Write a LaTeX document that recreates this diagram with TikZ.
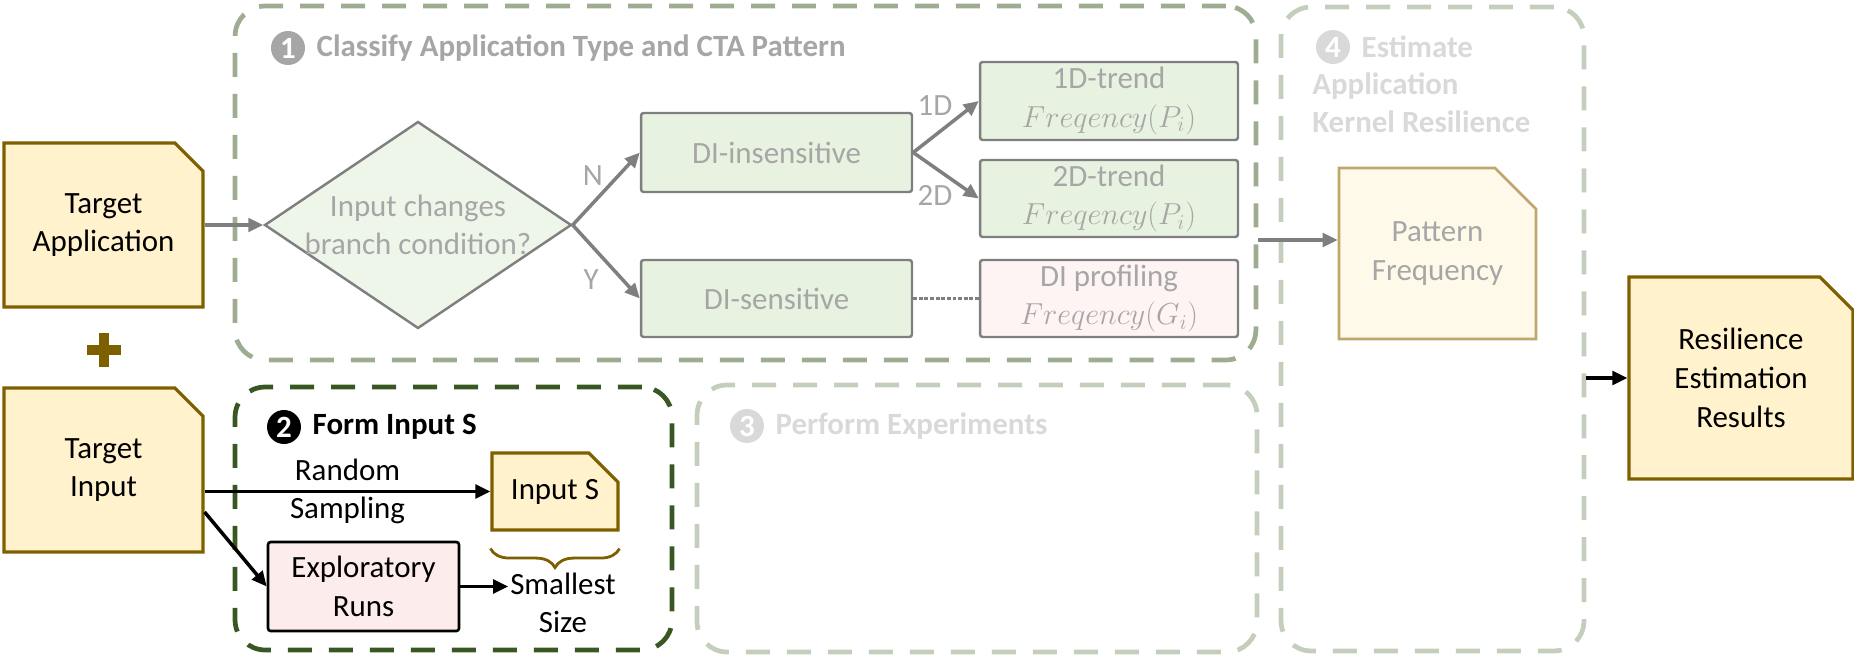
\documentclass[tikz,border=0pt]{standalone}
\usepackage{fontspec}
\setmainfont{Carlito}
\usepackage{xcolor}
\usepackage{tikz}
\usetikzlibrary{arrows.meta,positioning,shapes.geometric,shapes.misc,decorations.pathreplacing}
\definecolor{docfill}{RGB}{255,242,204}
\definecolor{docline}{RGB}{127,96,0}
\definecolor{fadedocfill}{RGB}{255,249,234}
\definecolor{fadedocline}{RGB}{190,166,108}
\definecolor{stepone}{RGB}{158,173,146}
\definecolor{steptwo}{RGB}{56,87,35}
\definecolor{stepfaint}{RGB}{196,206,188}
\definecolor{greyline}{RGB}{127,127,127}
\definecolor{greytext}{RGB}{166,166,166}
\definecolor{faintext}{RGB}{217,217,217}
\definecolor{trendfill}{RGB}{232,242,225}
\definecolor{condfill}{RGB}{238,246,234}
\definecolor{proffill}{RGB}{255,244,244}
\definecolor{runfill}{RGB}{253,236,236}
\newcommand{\bodysize}{\fontsize{17.6}{22}\selectfont}

\begin{document}
\begin{tikzpicture}[x=0.02cm, y=-0.02cm,
  every node/.style={font=\bodysize},
  doc/.style={chamfered rectangle, chamfered rectangle corners=north east, chamfered rectangle sep=0.28cm, draw=docline, fill=docfill, line width=1.8pt, align=center, inner sep=2pt},
  fadedoc/.style={doc, draw=fadedocline, fill=fadedocfill, text=greytext, line width=1.5pt},
  framebox/.style={draw, rounded corners=0.6cm, line width=2.7pt, dash pattern=on 0.48cm off 0.34cm, inner sep=0pt},
  greybox/.style={draw=greyline, fill=trendfill, text=greytext, line width=1.4pt, rounded corners=1.5pt, align=center, inner sep=1pt},
  greyarrow/.style={draw=greyline, line width=2pt, -{Triangle[length=0.3cm,width=0.27cm]}},
  blackarrow/.style={draw=black, line width=2pt, -{Triangle[length=0.3cm,width=0.27cm]}},
  numdot/.style={circle, inner sep=0pt, minimum size=0.68cm, text=white, font=\bodysize\bfseries},
  titletext/.style={anchor=west, inner sep=0pt, font=\bodysize\bfseries}]
\useasboundingbox (0,0) rectangle (1854,656);

\node[framebox, draw=stepone, minimum width=20.42cm, minimum height=7.08cm] (s1) at (745.5,183) {};
\node[framebox, draw=steptwo, minimum width=8.74cm, minimum height=5.26cm] (s2) at (453.5,518.5) {};
\node[framebox, draw=stepfaint, minimum width=11.2cm, minimum height=5.34cm] (s3) at (977,518.5) {};
\node[framebox, draw=stepfaint, minimum width=6.06cm, minimum height=12.88cm] (s4) at (1432.5,329) {};

\node[numdot, fill=greytext] (n1) at (288,48) {1};
\node[titletext, text=greytext, right=0.22cm of n1] (t1) {Classify Application Type and CTA Pattern};
\node[numdot, fill=black] (n2) at (284,427) {2};
\node[titletext, right=0.22cm of n2] (t2) {Form Input S};
\node[numdot, fill=faintext] (n3) at (747,426) {3};
\node[titletext, text=faintext, right=0.22cm of n3] (t3) {Perform Experiments};
\node[numdot, fill=faintext] (n4) at (1333,47) {4};
\node[titletext, text=faintext, right=0.22cm of n4] (t4) {Estimate};
\node[titletext, text=faintext, align=left, anchor=north west] (t4b) at (1312,72) {Application\\Kernel Resilience};

\node[doc, minimum width=3.98cm, minimum height=3.28cm] (tapp) at (103.5,225) {Target\\Application};
\node[doc, minimum width=3.98cm, minimum height=3.28cm] (tin) at (103.5,470) {Target\\Input};
\draw[docline, line width=0.2cm] (87,350) -- (121,350) (104,333) -- (104,367);

\node[diamond, draw=greyline, fill=condfill, line width=1.4pt, minimum width=6.14cm, minimum height=4.14cm, inner sep=0pt] (cond) at (418,225) {};
\node[text=greytext, align=center] (condtxt) at (cond) {Input changes\\branch condition?};
\node[greybox, minimum width=5.42cm, minimum height=1.58cm] (dins) at (776.5,152.5) {DI-insensitive};
\node[greybox, minimum width=5.42cm, minimum height=1.54cm] (dsen) at (776.5,298.5) {DI-sensitive};
\node[greybox, minimum width=5.16cm, minimum height=1.56cm] (trendA) at (1109,101) {1D-trend\\$Freqency(P_i)$};
\node[greybox, minimum width=5.16cm, minimum height=1.54cm] (trendB) at (1109,198.5) {2D-trend\\$Freqency(P_i)$};
\node[greybox, fill=proffill, minimum width=5.16cm, minimum height=1.54cm] (prof) at (1109,298.5) {DI profiling\\$Freqency(G_i)$};

\draw[greyarrow] (tapp.east) -- (cond.west);
\draw[greyarrow] (cond.east) -- (dins.west) node[midway, above left, inner sep=1pt, text=greytext] {N};
\draw[greyarrow] (cond.east) -- (dsen.west) node[midway, below left, text=greytext] {Y};
\draw[greyarrow] (dins.east) -- (trendA.west) node[pos=0.65, above left, inner sep=1pt, text=greytext] {1D};
\draw[greyarrow] (dins.east) -- (trendB.west) node[pos=0.65, below left, inner sep=1pt, text=greytext] {2D};
\draw[greyline, line width=2.2pt, densely dotted] (dsen.east) -- (prof.west);

\node[fadedoc, minimum width=3.94cm, minimum height=3.42cm, chamfered rectangle sep=0.41cm] (pfreq) at (1437.5,253.5) {Pattern\\Frequency};
\node[doc, minimum width=4.48cm, minimum height=4.04cm, chamfered rectangle sep=0.33cm] (res) at (1741,378) {Resilience\\Estimation\\Results};
\draw[greyarrow] ([yshift=-1.14cm]s1.east) coordinate (pin) -- (pin -| pfreq.west);
\draw[blackarrow] (s4.east |- res.west) -- (res.west);

\node[doc, minimum width=2.52cm, minimum height=1.54cm, chamfered rectangle sep=0.29cm] (insamp) at (555,491.5) {Input S};
\node[draw=black, fill=runfill, line width=1.5pt, rounded corners=1.5pt, align=center, minimum width=3.82cm, minimum height=1.78cm] (runs) at (363.5,586.5) {Exploratory\\Runs};
\node[align=center, inner sep=1pt] (small) at (563,603) {Smallest\\Size};
\draw[blackarrow] (tin.east |- insamp.west) -- (insamp.west) node[midway, align=center] {Random\\Sampling};
\draw[blackarrow] ([yshift=-0.84cm]tin.east) -- (runs.west);
\draw[blackarrow] (runs.east) -- (small.west |- runs.east);
\draw[docline, line width=1.6pt, decorate, decoration={brace, amplitude=0.38cm}] ([yshift=-0.34cm]insamp.south east) -- ([yshift=-0.34cm]insamp.south west);
\end{tikzpicture}
\end{document}
